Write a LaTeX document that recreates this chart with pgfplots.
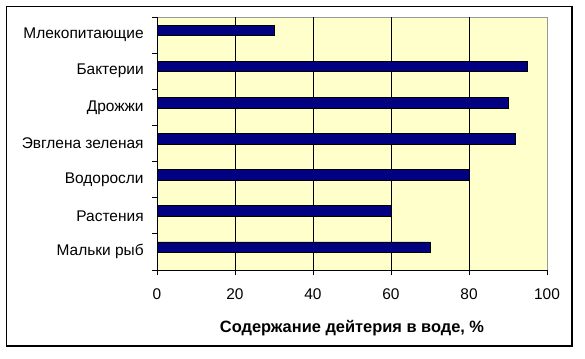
\documentclass[border=0pt]{standalone}
\usepackage{pgfplots}
\pgfplotsset{compat=1.18}
\usepackage{fontspec}
\setmainfont{Liberation Sans}
\definecolor{bgyellow}{HTML}{FFFFCC}
\definecolor{barnavy}{HTML}{000080}
\begin{document}
\begin{tikzpicture}
\path[use as bounding box] (0,0) rectangle (438.75pt,268.5pt);
\draw[black, line width=0.8pt] (5pt,9pt) rectangle (429pt,263.6pt);
\begin{axis}[
  at={(117.75pt,66pt)}, anchor=south west,
  scale only axis, width=292.5pt, height=189.75pt,
  xbar, bar width=8pt, bar shift=3.5pt,
  xmin=0, xmax=100, ymin=-0.5, ymax=6.5,
  axis background/.style={fill=bgyellow, draw=gray!80},
  axis x line*=bottom, axis y line*=left,
  axis line style={-, black, line width=0.6pt},
  xtick={0,20,...,100},
  ytick={0,...,6},
  yticklabels={Мальки рыб, Растения, Водоросли, Эвглена зеленая, Дрожжи, Бактерии, Млекопитающие},
  y tick style={draw=none},
  extra y ticks={-0.5,0.5,...,6.5},
  extra y tick labels={},
  extra y tick style={y tick style={draw=black, line width=0.6pt}, major tick length=4pt, tick align=outside},
  extra x ticks={20,40,60,80},
  extra x tick labels={},
  extra x tick style={xmajorgrids=true, major grid style={black, line width=0.6pt}, x tick style={draw=none}},
  x tick style={black, line width=0.6pt},
  tick align=outside, major tick length=4pt,
  /pgf/number format/assume math mode=true,
  tick label style={font=\fontsize{11.6}{13}\selectfont},
  yticklabel style={xshift=-2.5pt},
  xticklabel style={anchor=center, yshift=-14.5pt},
  xlabel={Содержание дейтерия в воде, \%},
  every axis x label/.style={at={(axis description cs:0.5,0)}, anchor=center, yshift=-43.5pt, font=\bfseries\fontsize{12.3}{14}\selectfont},
]
\addplot[fill=barnavy, draw=black, line width=0.6pt] coordinates {
  (70,0) (60,1) (80,2) (92,3) (90,4) (95,5) (30,6)
};
\end{axis}
\end{tikzpicture}
\end{document}
